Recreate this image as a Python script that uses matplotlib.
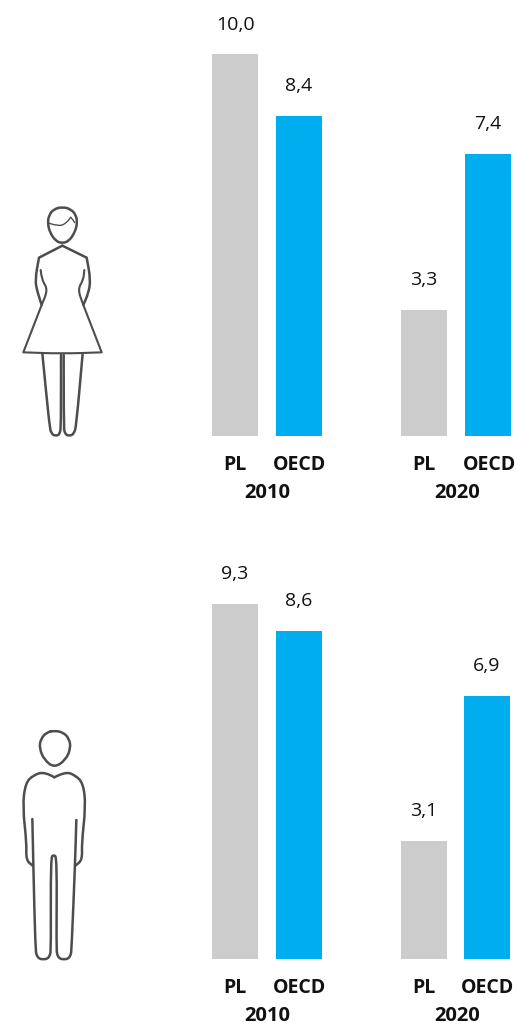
import matplotlib
matplotlib.use('Agg')
import matplotlib.pyplot as plt
from matplotlib.path import Path
from matplotlib.patches import PathPatch

plt.rcParams['font.family'] = ['Open Sans', 'DejaVu Sans']

W, H = 517, 1022

# Data
groups = ['PL', 'OECD', 'PL', 'OECD']
years = ['2010', '2020']
women = [10.0, 8.4, 3.3, 7.4]
men = [9.3, 8.6, 3.1, 6.9]
colors = ['#cccccc', '#00aeef', '#cccccc', '#00aeef']

fig = plt.figure(figsize=(W / 100, H / 100), dpi=100)


def panel(values, base, x_last):
    # y scale is the same in both panels, 38.15 px per unit
    top = base - 11 * 38.15
    ax = fig.add_axes([0, 1 - base / H, 1, (base - top) / H])
    ax.set_xlim(0, W)
    ax.set_ylim(0, 11)
    ax.axis('off')
    xs = [235, 299, 424, x_last]
    ax.bar(xs, values, width=46, color=colors)
    for x, v, g in zip(xs, values, groups):
        ax.annotate(f'{v:.1f}'.replace('.', ','), (x, v), xytext=(0, 25), textcoords='offset pixels',
                    ha='center', va='baseline', fontsize=14, color='#111111', annotation_clip=False)
        ax.annotate(g, (x + 1 if g == 'OECD' else x, 0), xytext=(0, -34), textcoords='offset pixels',
                    ha='center', va='baseline', fontsize=14, fontweight='bold', color='#111111',
                    annotation_clip=False)
    for label, x in zip(years, [267, 457]):
        ax.annotate(label, (x, 0), xytext=(0, -62), textcoords='offset pixels',
                    ha='center', va='baseline', fontsize=14.5, fontweight='bold', color='#111111',
                    annotation_clip=False)


panel(women, 436, 488)
panel(men, 959, 487)

# Overlay in pixel coordinates for the icons
icon = fig.add_axes([0, 0, 1, 1])
icon.set_xlim(0, W)
icon.set_ylim(H, 0)
icon.axis('off')
icon.patch.set_alpha(0)


def curve(pts, y0=0, lw=1.8, closed=False, color='#4d4d4d'):
    # smooth line through midpoints, points given in 3x zoom coordinates
    p = [(x / 3, y0 + y / 3) for x, y in pts]
    if closed:
        start = ((p[-1][0] + p[0][0]) / 2, (p[-1][1] + p[0][1]) / 2)
        verts, codes = [start], [Path.MOVETO]
        seq = p + [p[0]]
    else:
        verts, codes = [p[0]], [Path.MOVETO]
        seq = p[1:]
    for a, b in zip(seq[:-1], seq[1:]):
        verts += [a, ((a[0] + b[0]) / 2, (a[1] + b[1]) / 2)]
        codes += [Path.CURVE3, Path.CURVE3]
    if not closed:
        verts.append(seq[-1])
        codes.append(Path.LINETO)
    icon.add_patch(PathPatch(Path(verts, codes), fill=False, edgecolor=color, lw=lw,
                             capstyle='round', joinstyle='round'))


# Woman
wy = 190
curve([(187, 51), (212, 57), (228, 75), (232, 100), (224, 128), (207, 153), (187, 160), (167, 153),
       (150, 128), (143, 100), (147, 75), (162, 57)], wy, closed=True)
curve([(148, 100), (178, 110), (200, 98), (212, 82)], wy, lw=1)
curve([(212, 82), (218, 88), (224, 98)], wy, lw=1)
curve([(187, 167), (187, 167), (117, 203), (117, 203), (105, 270), (112, 305), (125, 345), (125, 345)], wy)
curve([(187, 167), (187, 167), (260, 203), (260, 203), (272, 270), (265, 310), (250, 345), (250, 345)], wy)
curve([(122, 240), (125, 270), (144, 298), (125, 345), (125, 345), (70, 487), (70, 487), (187, 491),
       (305, 487), (305, 487), (250, 345), (250, 345), (233, 298), (250, 270), (253, 240)], wy, lw=1.5)
curve([(127, 490), (127, 490), (148, 705), (154, 732), (168, 738), (180, 732), (183, 705), (183, 495)], wy)
curve([(191, 495), (191, 705), (194, 732), (208, 738), (222, 732), (229, 705), (248, 490), (248, 490)], wy)

# Man
my = 720
curve([(163, 32), (190, 37), (208, 57), (212, 85), (197, 120), (163, 143), (133, 120), (118, 85),
       (122, 57), (140, 37)], my, closed=True)
curve([(163, 172), (135, 155), (100, 165), (76, 190), (68, 260), (80, 370), (78, 420), (98, 437)], my)
curve([(163, 172), (195, 155), (225, 165), (250, 190), (257, 260), (245, 370), (247, 420), (226, 437)], my)
curve([(97, 297), (100, 437), (106, 680), (110, 712), (130, 720), (150, 712), (153, 680), (152, 415),
       (161, 403), (171, 415), (169, 680), (172, 712), (192, 720), (212, 712), (215, 680), (225, 437), (229, 300)],
      my)

fig.savefig('out.png', dpi=100)
